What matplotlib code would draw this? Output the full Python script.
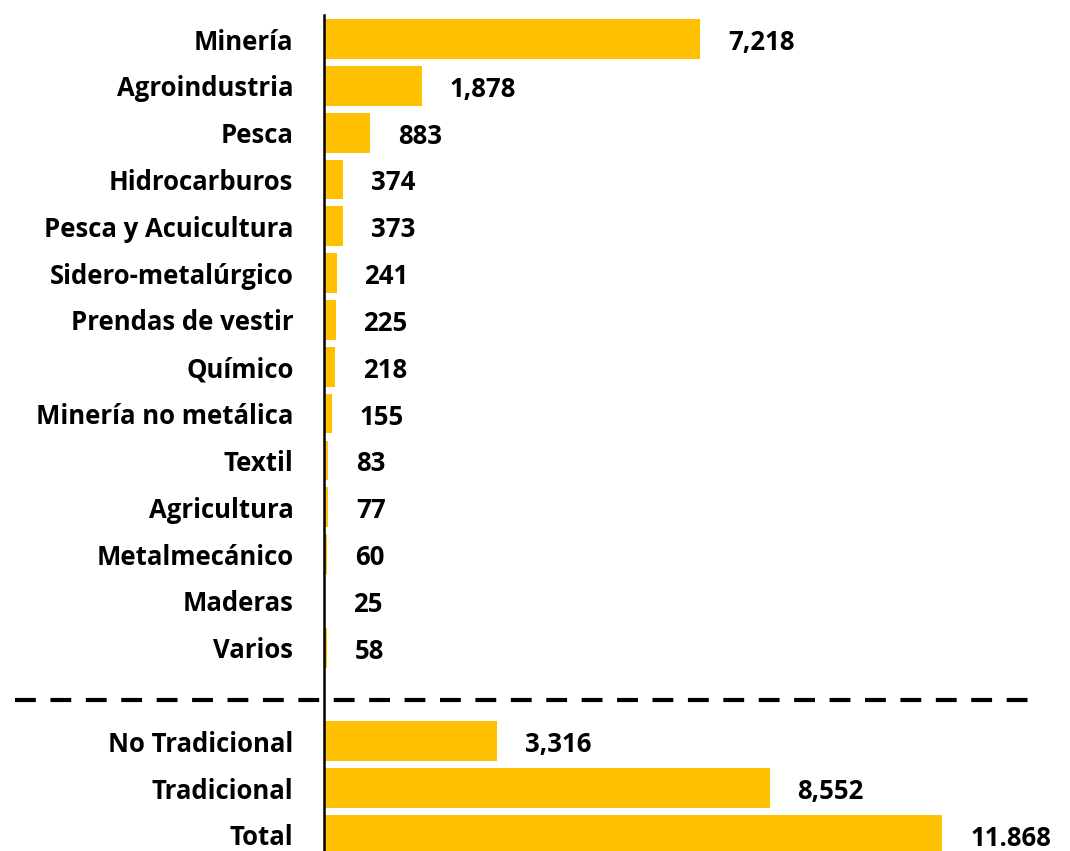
import matplotlib
matplotlib.use("Agg")
import matplotlib.pyplot as plt
from matplotlib.lines import Line2D
import matplotlib.transforms as mtransforms

categories = ["Minería", "Agroindustria", "Pesca", "Hidrocarburos", "Pesca y Acuicultura",
              "Sidero-metalúrgico", "Prendas de vestir", "Químico", "Minería no metálica",
              "Textil", "Agricultura", "Metalmecánico", "Maderas", "Varios"]
values = [7218, 1878, 883, 374, 373, 241, 225, 218, 155, 83, 77, 60, 25, 58]
value_labels = ["7,218", "1,878", "883", "374", "373", "241", "225", "218", "155",
                "83", "77", "60", "25", "58"]

summary_categories = ["No Tradicional", "Tradicional", "Total"]
summary_values = [3316, 8552, 11868]
summary_labels = ["3,316", "8,552", "11.868"]

plt.rcParams['font.family'] = ['Open Sans', 'DejaVu Sans']

W, H = 1070, 851
fig = plt.figure(figsize=(W / 100, H / 100), dpi=100)
ax_left = 324 / W
ax_top_px = 15
ax = fig.add_axes([ax_left, 0, 1 - ax_left, (H - ax_top_px) / H])

color = "#FFC000"
all_cats = categories + summary_categories
all_vals = values + summary_values
all_labels = value_labels + summary_labels
positions = list(range(len(categories))) + [len(categories) + 1 + i for i in range(len(summary_categories))]

ax.barh(positions, all_vals, height=0.85, color=color, left=0)

px_per_unit = 0.0521
ax.set_xlim(0, (W - 324) / px_per_unit)
first_c, last_c = 39, 835
slot = (last_c - first_c) / positions[-1]
top_pos = -(first_c - ax_top_px) / slot
bottom_pos = positions[-1] + (H - last_c) / slot
ax.set_ylim(bottom_pos, top_pos)

fs = 18.5
ax.set_yticks(positions)
ax.set_yticklabels(all_cats, fontsize=fs, fontweight="bold")
ax.tick_params(axis="y", length=0, pad=22)
ax.set_xticks([])

for s in ["top", "right", "bottom"]:
    ax.spines[s].set_visible(False)
ax.spines["left"].set_linewidth(1.8)
ax.spines["left"].set_color("black")

for p, v, lab in zip(positions, all_vals, all_labels):
    ax.annotate(lab, xy=(v, p), xytext=(20, -2.5), textcoords="offset points",
                ha="left", va="center", fontsize=fs, fontweight="bold", color="black",
                annotation_clip=False)

# dashed separator
sep_y = positions[len(categories) - 1] + (703 - 651) / slot
trans = mtransforms.blended_transform_factory(fig.transFigure, ax.transData)
line = Line2D([15 / W, 1028 / W], [sep_y, sep_y], transform=trans, color="black",
              linewidth=3, linestyle=(0, (5, 3.5)), clip_on=False)
fig.add_artist(line)

fig.savefig("out.png", dpi=100)
